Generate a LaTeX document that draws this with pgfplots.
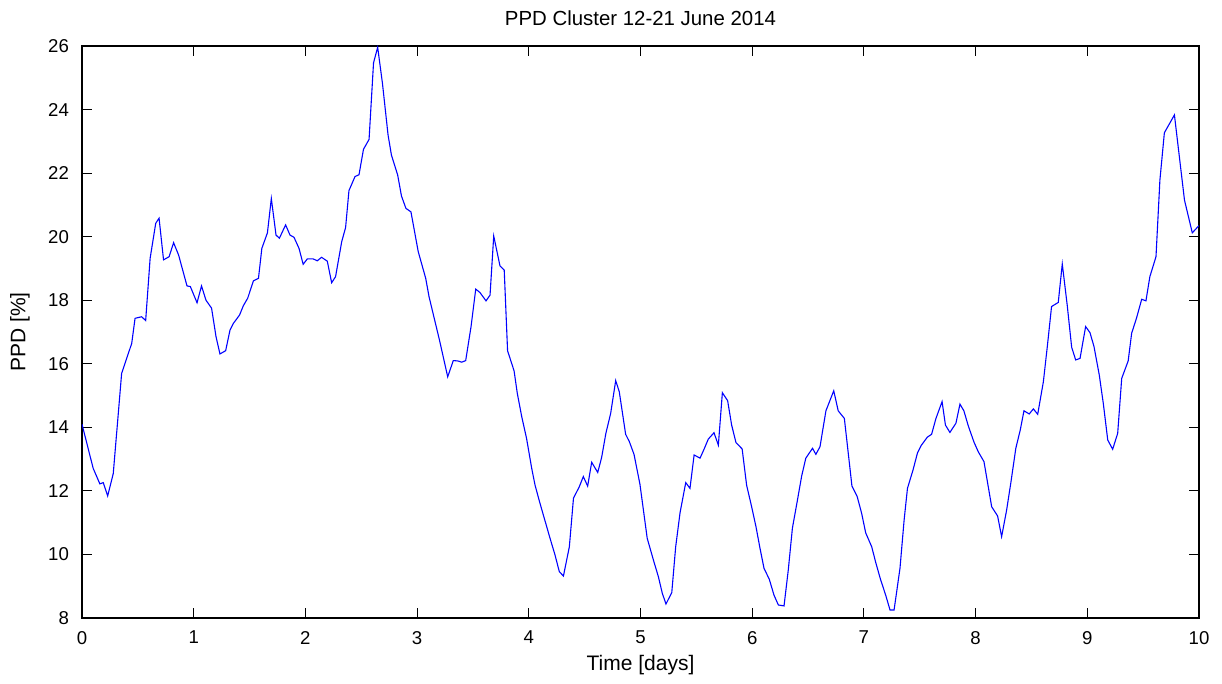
\documentclass[border=0pt]{standalone}
\usepackage{pgfplots}
\pgfplotsset{compat=1.18}
\usepackage{fontspec}
\setmainfont{Liberation Sans}
\begin{document}
\begin{tikzpicture}
\useasboundingbox (-41pt,-33pt) rectangle (570pt,309pt);
\begin{axis}[
  at={(0,0)}, anchor=south west,
  scale only axis,
  width=558.5pt, height=286pt,
  xmin=0, xmax=10, ymin=8, ymax=26,
  xtick={0,1,...,10}, ytick={8,10,...,26},
  tick align=inside, major tick length=5pt,
  xtick pos=both, ytick pos=both,
  axis line style={black, line width=0.6pt},
  tick style={black, line width=0.5pt},
  /pgf/number format/assume math mode=true,
  tick label style={font=\fontsize{9.3}{10}\selectfont},
  xticklabel style={yshift=-3pt},
  yticklabel style={xshift=-3pt},
  label style={font=\fontsize{10.5}{12}\selectfont},
  xlabel={Time [days]},
  ylabel={PPD [\%]},
  xlabel style={at={(axis description cs:0.5,0)}, anchor=center, yshift=-23.5pt},
  ylabel style={at={(axis description cs:0,0.5)}, anchor=center, yshift=31pt},
  title={PPD Cluster 12-21 June 2014},
  title style={font=\fontsize{10.2}{12}\selectfont, at={(axis description cs:0.5,1)}, anchor=center, yshift=8pt},
]
\addplot[color={rgb,1:red,0;green,0;blue,1}, line width=0.55pt, mark=none] coordinates {
(0.00,14.10) (0.10,12.71) (0.16,12.22) (0.19,12.26) (0.23,11.84) (0.28,12.55)
(0.355,15.70) (0.445,16.64) (0.475,17.43) (0.534,17.48) (0.57,17.36) (0.61,19.32)
(0.66,20.42) (0.69,20.58) (0.73,19.27) (0.78,19.37) (0.82,19.81) (0.865,19.42)
(0.94,18.45) (0.97,18.43) (1.03,17.92) (1.07,18.45) (1.11,18.0) (1.16,17.75)
(1.20,16.85) (1.235,16.31) (1.286,16.41) (1.325,17.06) (1.355,17.27) (1.41,17.53)
(1.445,17.83) (1.483,18.06) (1.535,18.61) (1.58,18.69) (1.61,19.63) (1.66,20.12)
(1.695,21.20) (1.737,20.05) (1.767,19.95) (1.823,20.37) (1.862,20.05) (1.898,19.98)
(1.943,19.63) (1.98,19.13) (2.017,19.30) (2.07,19.30) (2.106,19.24) (2.145,19.35)
(2.196,19.23) (2.235,18.55) (2.27,18.74) (2.325,19.84) (2.36,20.29) (2.39,21.45)
(2.444,21.89) (2.48,21.95) (2.52,22.75) (2.57,23.06) (2.61,25.47) (2.647,25.96)
(2.69,24.82) (2.74,23.2) (2.77,22.57) (2.826,21.94) (2.86,21.28) (2.90,20.89)
(2.945,20.78) (3.01,19.53) (3.077,18.69) (3.107,18.11) (3.15,17.48) (3.20,16.75)
(3.274,15.59) (3.324,16.10) (3.363,16.09) (3.40,16.05) (3.435,16.10) (3.483,17.17)
(3.525,18.35) (3.563,18.24) (3.617,17.98) (3.653,18.16) (3.686,20.02) (3.742,19.08)
(3.78,18.95) (3.81,16.41) (3.868,15.78) (3.897,15.07) (3.937,14.33) (3.98,13.65)
(4.026,12.71) (4.056,12.18) (4.10,11.61) (4.145,11.06) (4.19,10.51) (4.235,9.98)
(4.273,9.46) (4.31,9.32) (4.363,10.24) (4.40,11.77) (4.452,12.13) (4.488,12.45)
(4.527,12.15) (4.563,12.90) (4.617,12.58) (4.652,13.05) (4.69,13.81) (4.733,14.44)
(4.778,15.47) (4.81,15.12) (4.867,13.78) (4.90,13.55) (4.942,13.15) (4.995,12.21)
(5.06,10.51) (5.115,9.83) (5.16,9.30) (5.195,8.78) (5.228,8.44) (5.28,8.80)
(5.315,10.24) (5.354,11.31) (5.405,12.26) (5.443,12.08) (5.48,13.13) (5.533,13.03)
(5.57,13.32) (5.607,13.63) (5.658,13.83) (5.697,13.44) (5.733,15.09) (5.78,14.84)
(5.816,14.07) (5.855,13.52) (5.91,13.32) (5.95,12.18) (5.995,11.50) (6.034,10.87)
(6.07,10.19) (6.106,9.56) (6.153,9.22) (6.195,8.72) (6.234,8.41) (6.285,8.38)
(6.323,9.51) (6.36,10.83) (6.40,11.61) (6.443,12.47) (6.48,13.03) (6.54,13.34)
(6.57,13.15) (6.607,13.39) (6.66,14.52) (6.73,15.15) (6.77,14.52) (6.825,14.28)
(6.85,13.50) (6.893,12.15) (6.94,11.82) (6.98,11.29) (7.016,10.68) (7.07,10.24)
(7.108,9.72) (7.15,9.20) (7.195,8.72) (7.234,8.25) (7.27,8.25) (7.323,9.56)
(7.36,11.08) (7.39,12.08) (7.44,12.66) (7.48,13.20) (7.515,13.44) (7.568,13.69)
(7.606,13.78) (7.645,14.28) (7.70,14.81) (7.73,14.07) (7.77,13.84) (7.824,14.13)
(7.86,14.73) (7.895,14.52) (7.935,14.04) (7.986,13.53) (8.024,13.23) (8.075,12.92)
(8.108,12.24) (8.144,11.50) (8.197,11.21) (8.233,10.56) (8.278,11.40) (8.317,12.29)
(8.36,13.34) (8.40,13.92) (8.433,14.52) (8.48,14.42) (8.517,14.58) (8.556,14.41)
(8.607,15.44) (8.645,16.64) (8.68,17.80) (8.74,17.93) (8.776,19.14) (8.82,17.85)
(8.86,16.52) (8.896,16.12) (8.935,16.17) (8.985,17.17) (9.024,16.98) (9.06,16.54)
(9.107,15.65) (9.143,14.76) (9.183,13.60) (9.227,13.31) (9.272,13.81) (9.308,15.54)
(9.366,16.09) (9.397,16.96) (9.44,17.43) (9.487,18.03) (9.525,17.98) (9.56,18.74)
(9.615,19.37) (9.65,21.78) (9.69,23.27) (9.78,23.83) (9.87,21.15) (9.94,20.12)
(10.0,20.35)
};
\end{axis}
\end{tikzpicture}
\end{document}
